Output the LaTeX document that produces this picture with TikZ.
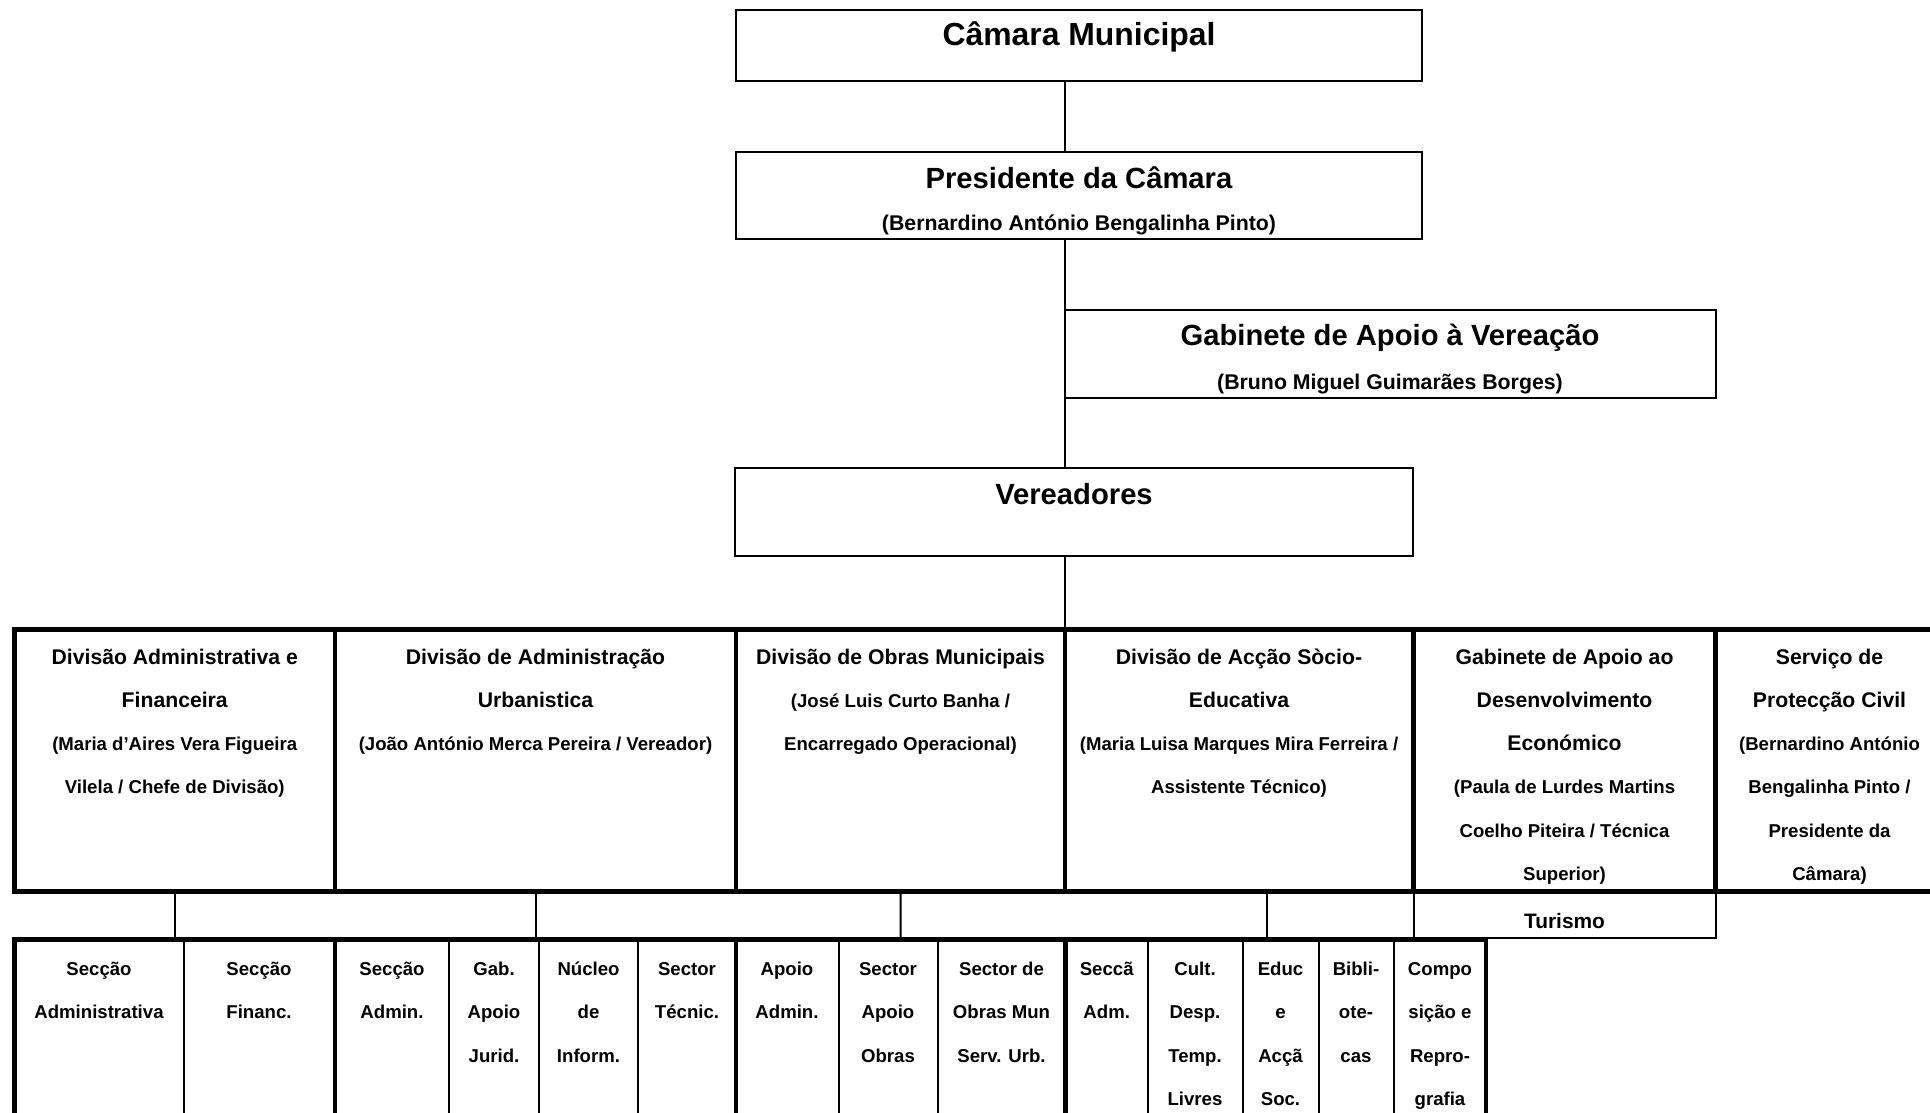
\documentclass[tikz,border=0pt]{standalone}
\usepackage{fontspec}
\setmainfont{Liberation Sans}
\newcommand\mlines[1]{\begin{tabular}[t]{@{}c@{}}#1\end{tabular}}
\newcommand\smtxt[1]{{\fontsize{18.6}{43.33}\selectfont #1}}
\newcommand\boxat[6]{\node[#1, minimum width={#4-#2}, minimum height={#5-#3}] (#6) at ({(#2+#4)/2},{(#3+#5)/2}) {};}
\begin{document}
\begin{tikzpicture}[x=1pt,y=-1pt,
  thinbox/.style={draw, line width=2pt, inner sep=0pt, outer sep=0pt},
  thickbox/.style={draw, line width=4.5pt, inner sep=0pt, outer sep=0pt},
  conn/.style={draw, line width=2pt},
  bigtitle/.style={anchor=base, inner sep=0pt, font=\bfseries\fontsize{29.2}{35}\selectfont},
  subtitle/.style={anchor=base, inner sep=0pt, font=\bfseries\fontsize{21.3}{26}\selectfont},
  divtext/.style={anchor=base, inner sep=0pt, font=\bfseries\fontsize{21.2}{43.33}\selectfont},
  subtext/.style={anchor=base, inner sep=0pt, font=\bfseries\fontsize{18.6}{43.33}\selectfont},
]
\fill[white] (0,0) rectangle (1930,1113);
\useasboundingbox (0,0) rectangle (1930,1113);
\clip (0,0) rectangle (1930,1113);

% top level boxes
\boxat{thinbox}{736}{10}{1422}{81}{cm}
\boxat{thinbox}{736}{152}{1422}{239}{pr}
\boxat{thinbox}{1065}{310}{1716}{398}{gb}
\boxat{thinbox}{735}{468}{1413}{556}{vr}

\node[bigtitle, font=\bfseries\fontsize{31.9}{38}\selectfont] (cmT) at (1079,45.5) {Câmara Municipal};
\node[bigtitle] (prT) at (1079,188) {Presidente da Câmara};
\node[subtitle] (prS) at (1079,230) {(Bernardino António Bengalinha Pinto)};
\node[bigtitle] (gbT) at (1390,345) {Gabinete de Apoio à Vereação};
\node[subtitle] (gbS) at (1390,389) {(Bruno Miguel Guimarães Borges)};
\node[bigtitle] (vrT) at (1074,504) {Vereadores};

% division row
\boxat{thickbox}{14.5}{629.5}{335}{891.5}{d1}
\boxat{thickbox}{335}{629.5}{736}{891.5}{d2}
\boxat{thickbox}{736}{629.5}{1065}{891.5}{d3}
\boxat{thickbox}{1065}{629.5}{1413.5}{891.5}{d4}
\boxat{thickbox}{1413.5}{629.5}{1715.5}{891.5}{d5}
\boxat{thickbox}{1715.5}{629.5}{1944}{891.5}{d6}

\node[divtext] (d1T) at (174.75,664) {\mlines{Divisão Administrativa e\\Financeira\\\smtxt{(Maria d’Aires Vera Figueira}\\\smtxt{Vilela / Chefe de Divisão)}}};
\node[divtext] (d2T) at (535.5,664) {\mlines{Divisão de Administração\\Urbanistica\\\smtxt{(João António Merca Pereira / Vereador)}}};
\node[divtext] (d3T) at (900.5,664) {\mlines{Divisão de Obras Municipais\\\smtxt{(José Luis Curto Banha /}\\\smtxt{Encarregado Operacional)}}};
\node[divtext] (d4T) at (1239,664) {\mlines{Divisão de Acção Sòcio-\\Educativa\\\smtxt{(Maria Luisa Marques Mira Ferreira /}\\\smtxt{Assistente Técnico)}}};
\node[divtext] (d5T) at (1564.5,664) {\mlines{Gabinete de Apoio ao\\Desenvolvimento\\Económico\\\smtxt{(Paula de Lurdes Martins}\\\smtxt{Coelho Piteira / Técnica}\\\smtxt{Superior)}}};
\node[divtext] (d6T) at (1829.5,664) {\mlines{Serviço de\\Protecção Civil\\\smtxt{(Bernardino António}\\\smtxt{Bengalinha Pinto /}\\\smtxt{Presidente da}\\\smtxt{Câmara)}}};

% Turismo
\boxat{thinbox}{1413.5}{891.5}{1715.5}{938}{tu}
\node[anchor=base, inner sep=0pt, font=\bfseries\fontsize{20.9}{25}\selectfont] (tuT) at (1564.5,928.5) {Turismo};

% bottom row sub boxes
\boxat{thinbox}{14.5}{939.5}{183.5}{1140}{b1}
\boxat{thinbox}{183.5}{939.5}{335}{1140}{b2}
\boxat{thinbox}{335}{939.5}{449}{1140}{b3}
\boxat{thinbox}{449}{939.5}{539}{1140}{b4}
\boxat{thinbox}{539}{939.5}{638}{1140}{b5}
\boxat{thinbox}{638}{939.5}{736}{1140}{b6}
\boxat{thinbox}{736}{939.5}{838.5}{1140}{b7}
\boxat{thinbox}{838.5}{939.5}{937.5}{1140}{b8}
\boxat{thinbox}{937.5}{939.5}{1065.5}{1140}{b9}
\boxat{thinbox}{1065.5}{939.5}{1148}{1140}{b10}
\boxat{thinbox}{1148}{939.5}{1242.5}{1140}{b11}
\boxat{thinbox}{1242.5}{939.5}{1318.5}{1140}{b12}
\boxat{thinbox}{1318.5}{939.5}{1394}{1140}{b13}
\boxat{thinbox}{1394}{939.5}{1486}{1140}{b14}
% group borders
\boxat{thickbox}{14.5}{939.5}{335}{1140}{g1}
\boxat{thickbox}{335}{939.5}{736}{1140}{g2}
\boxat{thickbox}{736}{939.5}{1065.5}{1140}{g3}
\boxat{thickbox}{1065.5}{939.5}{1486}{1140}{g4}

\node[subtext] (b1T) at (99,975.5) {\mlines{Secção\\Administrativa}};
\node[subtext] (b2T) at (259,975.5) {\mlines{Secção\\Financ.}};
\node[subtext] (b3T) at (392,975.5) {\mlines{Secção\\Admin.}};
\node[subtext] (b4T) at (494,975.5) {\mlines{Gab.\\Apoio\\Jurid.}};
\node[subtext] (b5T) at (588.5,975.5) {\mlines{Núcleo\\de\\Inform.}};
\node[subtext] (b6T) at (687,975.5) {\mlines{Sector\\Técnic.}};
\node[subtext] (b7T) at (787,975.5) {\mlines{Apoio\\Admin.}};
\node[subtext] (b8T) at (888,975.5) {\mlines{Sector\\Apoio\\Obras}};
\node[subtext] (b9T) at (1001.5,975.5) {\mlines{Sector de\\Obras Mun\\Serv. Urb.}};
\node[subtext] (b10T) at (1106.7,975.5) {\mlines{Seccã\\Adm.}};
\node[subtext] (b11T) at (1195,975.5) {\mlines{Cult.\\Desp.\\Temp.\\Livres}};
\node[subtext] (b12T) at (1280.5,975.5) {\mlines{Educ\\e\\Acçã\\Soc.}};
\node[subtext] (b13T) at (1356,975.5) {\mlines{Bibli-\\ote-\\cas}};
\node[subtext] (b14T) at (1440,975.5) {\mlines{Compo\\sição e\\Repro-\\grafia}};

% connectors
\coordinate (trunk) at (1065,0);
\draw[conn] (cm.south -| trunk) -- (pr.north -| trunk);
\draw[conn] (pr.south -| trunk) -- (gb.north west);
\draw[conn] (gb.south west) -- (vr.north -| trunk);
\draw[conn] (vr.south -| trunk) -- (d4.north west);
\draw[conn] (d1.south) -- (g1.north);
\draw[conn] (d2.south) -- (g2.north);
\draw[conn] (d3.south) -- (g3.north);
\coordinate (c4) at (1267,891.5);
\draw[conn] (c4) -- (c4 |- g4.north);
\end{tikzpicture}
\end{document}
